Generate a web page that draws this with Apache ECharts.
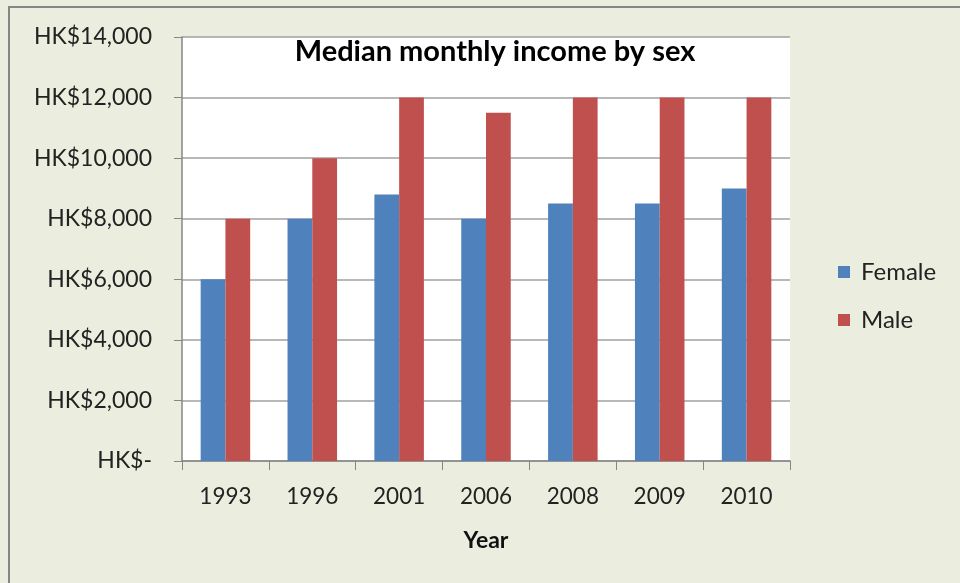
<!DOCTYPE html>
<html><head><meta charset="utf-8">
<script src="https://cdn.jsdelivr.net/npm/echarts@6/dist/echarts.min.js"></script>
<style>html,body{margin:0;padding:0;background:#ebeedf;}#c{width:960px;height:583px;}</style>
</head><body><div id="c"></div>
<script>
const categories = ['1993','1996','2001','2006','2008','2009','2010'];
const female = [6000, 8000, 8800, 8000, 8500, 8500, 9000];
const male = [8000, 10000, 12000, 11500, 12000, 12000, 12000];
const yTicks = [0, 2000, 4000, 6000, 8000, 10000, 12000, 14000];

const font = 'Lato, "Open Sans", sans-serif';
const chart = echarts.init(document.getElementById('c'));
chart.setOption({
  backgroundColor: '#ebeedf',
  animation: false,
  graphic: [
    {type:'line', shape:{x1:9, y1:7, x2:9, y2:583}, style:{stroke:'#868686', lineWidth:2}},
    {type:'line', shape:{x1:8, y1:7, x2:960, y2:7}, style:{stroke:'#868686', lineWidth:2}},
    {type:'rect', shape:{x:182, y:37, width:608, height:424}, style:{fill:'#ffffff'}, z:-10}
  ],
  title: {
    text: 'Median monthly income by sex',
    left: 490, top: 32, textAlign: 'center',
    textStyle: {fontFamily: font, fontWeight: 'bold', fontSize: 29, color: '#000'}
  },
  legend: {
    orient: 'vertical', left: 833, top: 255, itemGap: 24,
    itemWidth: 12, itemHeight: 12, icon: 'rect',
    textStyle: {fontFamily: font, fontSize: 24, color: '#222', padding:[0,0,0,6]},
    data: ['Female','Male']
  },
  grid: {left: 182, top: 37, width: 608, height: 424, containLabel: false},
  xAxis: {
    type: 'category', data: categories,
    name: 'Year', nameLocation: 'middle', nameGap: 68,
    nameTextStyle: {fontFamily: font, fontWeight: 'bold', fontSize: 23, color: '#111'},
    axisLine: {lineStyle: {color: '#868686', width: 1.5}},
    axisTick: {show: true, length: 9, alignWithLabel: false, lineStyle: {color: '#868686'}},
    axisLabel: {fontFamily: font, fontSize: 22.5, color: '#222', margin: 24}
  },
  yAxis: {
    type: 'value', min: 0, max: 14000, interval: 2000,
    axisLine: {show: true, lineStyle: {color: '#868686', width: 1.5}},
    axisTick: {show: true, length: 8, lineStyle: {color: '#868686'}},
    splitLine: {lineStyle: {color: '#a0a0a0', width: 1.5}},
    axisLabel: {fontFamily: font, fontSize: 23, color: '#222', margin: 30,
      formatter: v => v === 0 ? 'HK$-' : 'HK$' + v.toLocaleString('en-US')}
  },
  series: [
    {name:'Female', type:'bar', data: female, barGap: '0%', barCategoryGap: '43%',
     itemStyle: {color: '#4f81bd'}},
    {name:'Male', type:'bar', data: male, barGap: '0%', barCategoryGap: '43%',
     itemStyle: {color: '#c0504d'}}
  ]
});
</script></body></html>
